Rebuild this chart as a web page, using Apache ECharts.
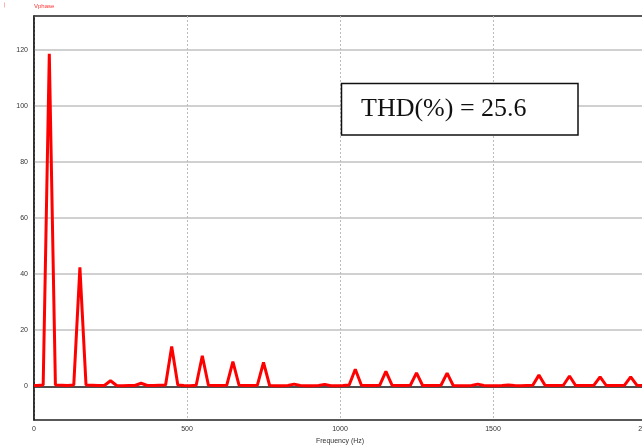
<!DOCTYPE html>
<html><head><meta charset="utf-8">
<script src="https://cdn.jsdelivr.net/npm/echarts@6/dist/echarts.min.js"></script>
<style>html,body{margin:0;padding:0;background:#fff}#c{width:642px;height:446px}</style>
</head><body><div id="c"></div>
<script>
var freqs = [0,10,30,50,70,90,110,130,150,170,190,210,230,250,270,290,310,330,350,370,390,410,430,450,470,490,510,530,550,570,590,610,630,650,670,690,710,730,750,770,790,810,830,850,870,890,910,930,950,970,990,1010,1030,1050,1070,1090,1110,1130,1150,1170,1190,1210,1230,1250,1270,1290,1310,1330,1350,1370,1390,1410,1430,1450,1470,1490,1510,1530,1550,1570,1590,1610,1630,1650,1670,1690,1710,1730,1750,1770,1790,1810,1830,1850,1870,1890,1910,1930,1950,1970,1990];
var vphase = [0.3,0.3,0.5,118.5,0.5,0.4,0.3,0.5,42.4,0.5,0.4,0.3,0.3,2.0,0.3,0.2,0.3,0.3,1.1,0.3,0.3,0.4,0.5,14.2,0.5,0.3,0.2,0.4,10.9,0.4,0.3,0.3,0.4,8.8,0.4,0.3,0.3,0.4,8.5,0.3,0.2,0.2,0.3,0.8,0.3,0.2,0.2,0.3,0.7,0.2,0.2,0.3,0.5,6.1,0.4,0.3,0.3,0.4,5.3,0.4,0.3,0.3,0.4,4.8,0.3,0.3,0.3,0.4,4.7,0.3,0.2,0.2,0.3,0.8,0.3,0.2,0.2,0.3,0.5,0.3,0.2,0.3,0.4,4.0,0.4,0.3,0.3,0.4,3.7,0.3,0.3,0.3,0.4,3.4,0.3,0.3,0.3,0.4,3.4,0.4,0.3];
var yTicks = [0,20,40,60,80,100,120];
var xTicks = [0,500,1000,1500,2000];
var seriesName = 'Vphase';
var thdText = 'THD(%) = 25.6';
var xTitle = 'Frequency (Hz)';

var chart = echarts.init(document.getElementById('c'), null, {renderer:'canvas'});
var pts = freqs.map(function(f,i){return [f, vphase[i]];});
chart.setOption({
  animation:false,
  grid:{left:34, top:16, bottom:26, right:-4, show:true, borderColor:'#222', borderWidth:1.5, backgroundColor:'transparent', outerBoundsMode:'none', containLabel:false},
  xAxis:{type:'value', min:0, max:2000, interval:500,
    axisLine:{lineStyle:{color:'#222', width:1.5}},
    axisTick:{show:false},
    axisLabel:{fontSize:7, color:'#333', margin:6, fontFamily:'Liberation Sans', formatter:function(v){return String(v);}},
    splitLine:{show:true, lineStyle:{color:'#bbb', type:[2,2], width:1}},
    name:xTitle, nameLocation:'middle', nameGap:16, nameTextStyle:{fontSize:7, color:'#333', fontFamily:'Liberation Sans'}
  },
  yAxis:{type:'value', min:-12, max:132,
    axisLine:{show:true, lineStyle:{color:'#222', width:1.5}},
    axisTick:{show:false, customValues:yTicks},
    axisLabel:{fontSize:7, color:'#333', margin:6, customValues:yTicks, fontFamily:'Liberation Sans'},
    splitLine:{show:true, lineStyle:{color:'#d0d0d0', width:2}}
  },
  series:[{type:'line', name:seriesName, data:pts, symbol:'none', lineStyle:{color:'#ff0000', width:3}, z:5}],
  graphic:[
    {type:'rect', shape:{x:4.5, y:2.5, width:0.5, height:5}, style:{fill:'#ff6666'}},
    {type:'text', left:34, top:3, style:{text:seriesName, fill:'#ff3333', font:'6px Liberation Sans'}},
    {type:'rect', shape:{x:341.5, y:83.5, width:236.5, height:51.5}, style:{fill:'#fff', stroke:'#111', lineWidth:1.5}, z:10},
    {type:'text', x:361, y:109, style:{text:thdText, fill:'#111', font:'26px "Liberation Serif"', textVerticalAlign:'middle'}, z:11}
  ]
});
</script></body></html>
